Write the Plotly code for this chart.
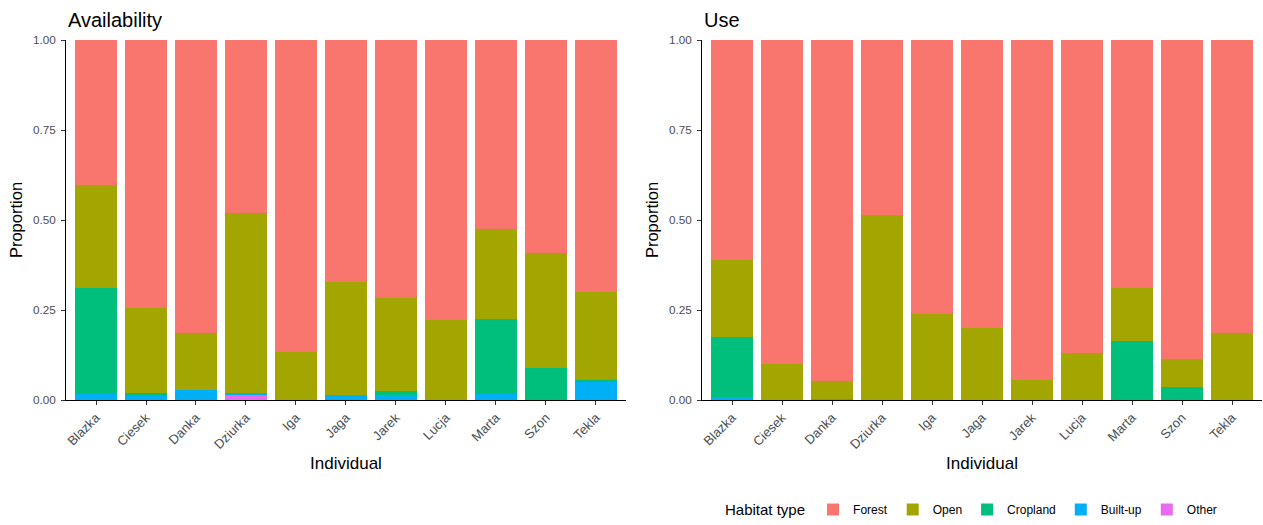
import plotly.graph_objects as go
from plotly.subplots import make_subplots

individuals = ["Blazka", "Ciesek", "Danka", "Dziurka", "Iga", "Jaga",
               "Jarek", "Lucja", "Marta", "Szon", "Tekla"]

habitats = ["Forest", "Open", "Cropland", "Built-up", "Other"]
habitat_colors = {
    "Forest": "#F8766D",
    "Open": "#A3A500",
    "Cropland": "#00BF7D",
    "Built-up": "#00B0F6",
    "Other": "#E76BF3",
}

# Proportion of each habitat type available to each individual
avail_forest   = [0.404, 0.745, 0.813, 0.480, 0.866, 0.672, 0.717, 0.778, 0.526, 0.591, 0.700]
avail_open     = [0.284, 0.236, 0.159, 0.501, 0.134, 0.314, 0.259, 0.222, 0.248, 0.321, 0.245]
avail_cropland = [0.295, 0.007, 0.000, 0.000, 0.000, 0.000, 0.010, 0.000, 0.210, 0.088, 0.004]
avail_builtup  = [0.017, 0.012, 0.028, 0.005, 0.000, 0.014, 0.014, 0.000, 0.016, 0.000, 0.051]
avail_other    = [0.000, 0.000, 0.000, 0.014, 0.000, 0.000, 0.000, 0.000, 0.000, 0.000, 0.000]

# Proportion of locations in each habitat type (use)
use_forest   = [0.611, 0.900, 0.947, 0.485, 0.760, 0.801, 0.945, 0.870, 0.688, 0.886, 0.815]
use_open     = [0.213, 0.100, 0.050, 0.515, 0.240, 0.199, 0.055, 0.130, 0.149, 0.077, 0.185]
use_cropland = [0.169, 0.000, 0.000, 0.000, 0.000, 0.000, 0.000, 0.000, 0.163, 0.037, 0.000]
use_builtup  = [0.007, 0.000, 0.003, 0.000, 0.000, 0.000, 0.000, 0.000, 0.000, 0.000, 0.000]
use_other    = [0.000, 0.000, 0.000, 0.000, 0.000, 0.000, 0.000, 0.000, 0.000, 0.000, 0.000]

y_ticks = [0, 0.25, 0.5, 0.75, 1.0]
y_tick_labels = ["0.00", "0.25", "0.50", "0.75", "1.00"]

panels = [
    ("Availability", {"Forest": avail_forest, "Open": avail_open, "Cropland": avail_cropland,
                      "Built-up": avail_builtup, "Other": avail_other}),
    ("Use", {"Forest": use_forest, "Open": use_open, "Cropland": use_cropland,
             "Built-up": use_builtup, "Other": use_other}),
]

FONT = "Liberation Sans, Arial, sans-serif"

fig = make_subplots(rows=1, cols=2, horizontal_spacing=0.0636)

for col, (title, series) in enumerate(panels, start=1):
    # stack from the bottom up so Forest ends up on top
    for hab in reversed(habitats):
        fig.add_trace(
            go.Bar(
                x=individuals,
                y=series[hab],
                name=hab,
                marker=dict(color=habitat_colors[hab], line=dict(width=0)),
                legendgroup=hab,
                showlegend=(col == 1),
                legendrank=habitats.index(hab),
                hovertemplate="%{x}<br>" + hab + ": %{y:.3f}<extra></extra>",
            ),
            row=1, col=col,
        )

axis_common = dict(
    showline=True, linecolor="black", linewidth=1,
    ticks="outside", ticklen=4, tickcolor="#333333", tickwidth=1,
    showgrid=False, zeroline=False,
)

for col in (1, 2):
    fig.update_xaxes(
        axis_common,
        type="category", range=[-0.6, 10.6], tickangle=-45,
        tickfont=dict(family=FONT, size=13, color="#4D4D4D"),
        title=dict(text="Individual", font=dict(family=FONT, size=17, color="black"), standoff=6),
        row=1, col=col,
    )
    fig.update_yaxes(
        axis_common,
        range=[0, 1], tickvals=y_ticks, ticktext=y_tick_labels,
        ticklabelstandoff=3,
        tickfont=dict(family=FONT, size=11.7, color="#4D4D4D"),
        title=dict(text="Proportion", font=dict(family=FONT, size=16.5, color="black"), standoff=6),
        row=1, col=col,
    )

fig.update_xaxes(domain=[0.0, 0.4682], row=1, col=1)
fig.update_xaxes(domain=[0.5318, 1.0], row=1, col=2)

for title, xpos in (("Availability", 0.0), ("Use", 0.5318)):
    fig.add_annotation(
        text=title, xref="paper", yref="paper", x=xpos, y=1.0,
        xanchor="left", yanchor="middle", yshift=20, showarrow=False,
        font=dict(family=FONT, size=20, color="black"),
    )

fig.update_layout(
    width=1263, height=525,
    margin=dict(l=66, r=1, t=40, b=124),
    barmode="stack", bargap=0.15,
    plot_bgcolor="white", paper_bgcolor="white",
    font=dict(family=FONT, color="black"),
    legend=dict(
        orientation="h",
        x=(723 - 66) / 1196, xanchor="left",
        y=(401 - 510) / 361, yanchor="middle",
        title=dict(text="Habitat type", font=dict(family=FONT, size=15, color="black")),
        font=dict(family=FONT, size=12, color="black"),
        traceorder="normal",
    ),
)

fig.write_html("out.html")
